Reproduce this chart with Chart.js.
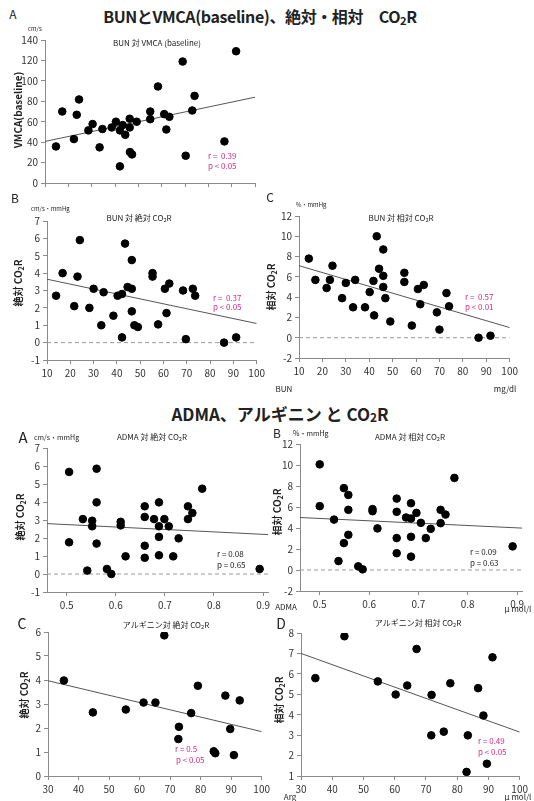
<!DOCTYPE html>
<html>
<head>
<meta charset="utf-8">
<script src="https://cdn.jsdelivr.net/npm/chart.js@4.4.0/dist/chart.umd.min.js"></script>
<style>
  body { margin:0; background:#fff; width:534px; height:801px; position:relative; overflow:hidden;
         font-family:"Noto Sans CJK JP", sans-serif; color:#222; }
  canvas { position:absolute; }
  .t { position:absolute; white-space:nowrap; line-height:1; }
</style>
</head>
<body>
<script>
/* data */

// BUN vs VMCA(baseline)
const bunA  = [14.7,17.4,22.4,23.6,24.6,28.6,30.4,33.4,34.6,38.6,40.4,42.1,42.1,43.3,44.4,46.3,46.3,46.4,47.3,49.3,55.1,55.1,58.4,61.1,62,63.3,69,70.3,73.1,74.1,86.9,91.9];
const vmca  = [35.8,70,43,66.8,81.8,51.5,57.7,34.9,52.8,54.4,60,51.5,16.3,56.7,47.2,62.9,54.4,30.3,28,60,70,62.5,94.5,67.4,52.4,64.8,118.9,26.7,71,85.3,40.7,129];
const fitA  = [40.7, 84];

// BUN vs absolute CO2R
const bunB  = [13.9,16.7,21.7,23.1,24.1,28.2,30,33.3,34.3,38.5,40.3,42.2,42.2,43.5,44.6,46.4,46.4,46.4,47.5,49,55.3,55.3,57.7,60.6,61.3,62.5,68.4,69.6,72.6,73.6,86,91.2];
const absB  = [2.7,4.0,2.1,3.8,5.9,2.0,3.1,1.0,2.9,1.55,2.7,2.8,0.3,5.7,3.2,4.75,3.1,1.8,1.0,0.9,4.0,3.8,1.05,3.1,1.7,3.4,3.0,0.2,3.1,2.7,0,0.3];
const fitB  = [3.65, 1.1];

// BUN vs relative CO2R
const bunC  = [14.2,17,21.8,23.2,24.3,28.4,30,33.1,34,38.2,40.2,41.8,42.1,43.2,44.2,46,46,46,46.9,49,55,55,58.2,60.8,61.8,63.3,68.9,70,73,74.1,86.7,91.8];
const relC  = [7.8,5.7,4.9,5.7,7.1,3.9,5.4,3.0,5.7,3.0,4.5,5.6,2.2,10.0,6.8,8.7,6.1,5.0,3.9,1.6,6.4,5.5,1.2,4.8,3.3,5.2,2.5,0.8,4.4,3.1,0,0.2];
const fitC  = [7.1, 1.0];

// ADMA vs absolute CO2R
const admaA = [0.505,0.505,0.533,0.542,0.552,0.552,0.561,0.561,0.561,0.582,0.591,0.61,0.61,0.62,0.659,0.659,0.659,0.659,0.678,0.688,0.688,0.688,0.688,0.699,0.708,0.717,0.728,0.747,0.747,0.756,0.776,0.893];
const absA  = [5.67,1.76,3.05,0.19,2.96,2.65,5.85,3.98,1.69,0.28,0,2.9,2.7,0.98,3.76,3.17,1.57,0.9,3.05,3.98,2.65,2.06,1.04,3.05,2.65,0.98,1.98,3.76,3.05,3.39,4.74,0.28];
const fitAdA = [2.8, 2.19];

// ADMA vs relative CO2R
const admaB = [0.5,0.5,0.529,0.538,0.549,0.549,0.558,0.558,0.558,0.578,0.587,0.607,0.607,0.617,0.656,0.656,0.656,0.656,0.675,0.685,0.685,0.685,0.685,0.696,0.705,0.715,0.725,0.745,0.745,0.755,0.773,0.891];
const relB  = [10.06,6.08,4.8,0.85,7.8,2.56,7.15,5.73,3.35,0.35,0.06,5.8,5.6,3.96,6.8,5.54,3.04,1.6,5.0,6.36,4.9,3.16,1.27,5.44,4.49,3.04,3.92,5.73,4.46,5.28,8.77,2.25];
const fitAdB = [5.0, 3.99];

// Arginine vs absolute CO2R
const argC  = [35.2,44.7,55.5,61.3,65.2,68.1,79.1,76.9,72.9,72.7,88.1,92.8,89.7,84.3,84.8,90.9];
const absC  = [3.98,2.65,2.77,3.06,3.06,5.86,3.76,2.62,2.05,1.54,3.35,3.15,1.96,1.03,0.95,0.87];
const fitArC = [3.97, 1.85];

// Arginine vs relative CO2R
const argD  = [34.6,43.9,54.6,60.3,64,67,71.8,71.7,75.7,77.8,83.4,83,86.7,88.4,89.5,91.3];
const relD  = [5.79,7.84,5.63,4.99,5.43,7.22,4.97,2.99,3.17,5.54,2.99,1.2,5.3,3.96,1.6,6.81];
const fitArD = [7.0, 3.15];

// tick labels
const bunTicks  = [10,20,30,40,50,60,70,80,90,100];
const admaTicks = [0.5,0.6,0.7,0.8,0.9];
const argTicks  = [30,40,50,60,70,80,90,100];
const vmcaTicks = [0,20,40,60,80,100,120,140];
const absTicks  = [-1,0,1,2,3,4,5,6,7];
const relTicks  = [-2,0,2,4,6,8,10,12];
const absArgTicks = [0,1,2,3,4,5,6];
const relArgTicks = [1,2,3,4,5,6,7,8];

const AXIS = '#8a8a8a';
const TICKFONT = { family: '"Noto Sans CJK JP", sans-serif', size: 10 };

function panel(p) {
  const padL = 34, padT = 8, padR = 8, padB = 22;
  const w = Math.round(p.box[2] - p.box[0]) + padL + padR;
  const h = Math.round(p.box[3] - p.box[1]) + padT + padB;
  const c = document.createElement('canvas');
  c.width = w; c.height = h;
  c.style.left = Math.round(p.box[0] - padL) + 'px';
  c.style.top = Math.round(p.box[1] - padT) + 'px';
  c.style.width = w + 'px'; c.style.height = h + 'px';
  document.body.appendChild(c);

  const datasets = [
    { data: p.xs.map((x, i) => ({ x, y: p.ys[i] })), backgroundColor: '#000', borderColor: '#000',
      pointRadius: 3.8, pointHoverRadius: 3.8, order: 0 },
    { data: [{ x: p.xr[0], y: p.fit[0] }, { x: p.xr[1], y: p.fit[1] }], showLine: true,
      pointRadius: 0, borderColor: '#555', borderWidth: 1, order: 1 }
  ];
  if (p.zero) datasets.push({ data: [{ x: p.xr[0], y: 0 }, { x: p.xr[1], y: 0 }], showLine: true,
      pointRadius: 0, borderColor: '#999', borderWidth: 1, borderDash: [4, 3], order: 2 });

  const axis = (min, max, ticks, fit, noLabels) => ({
    type: 'linear', min, max,
    afterBuildTicks: s => { s.ticks = ticks.map(v => ({ value: v })); },
    afterFit: fit,
    ticks: { font: TICKFONT, color: '#333', padding: 3, maxRotation: 0, autoSkip: false,
             callback: noLabels ? () => '' : (v => String(v)) },
    grid: { drawOnChartArea: false, drawTicks: true, tickLength: 4, color: AXIS },
    border: { color: AXIS, width: 1 }
  });

  new Chart(c, {
    type: 'scatter',
    data: { datasets },
    options: {
      responsive: false, animation: false, devicePixelRatio: 1,
      layout: { padding: { top: padT, right: padR, left: 0, bottom: 0 } },
      plugins: { legend: { display: false }, tooltip: { enabled: false } },
      scales: {
        x: axis(p.xr[0], p.xr[1], p.xt, s => { s.height = padB; }, p.noX),
        y: axis(p.yr[0], p.yr[1], p.yt, s => { s.width = padL; })
      }
    }
  });
}

function lab(html, x, y, size, o = {}) {
  const d = document.createElement('div');
  d.className = 't';
  d.innerHTML = html;
  d.style.left = x + 'px'; d.style.top = y + 'px';
  d.style.fontSize = size + 'px';
  d.style.color = o.color || '#222';
  d.style.fontWeight = o.bold ? '700' : '400';
  if (o.ls) d.style.letterSpacing = o.ls + 'px';
  let tr = o.left ? 'translate(0,-50%)' : 'translate(-50%,-50%)';
  if (o.rot) tr += ' rotate(-90deg)';
  d.style.transform = tr;
  document.body.appendChild(d);
}

const CO2R = 'CO<sub style="font-size:0.7em;vertical-align:-0.15em">2</sub>R';
const MAG = '#cc2c80';

panel({ box: [45, 39, 255, 183], xs: bunA, ys: vmca, fit: fitA, xr: [10, 100], yr: [0, 140], xt: bunTicks, yt: vmcaTicks, noX: true });
panel({ box: [47, 220, 260, 360], xs: bunB, ys: absB, fit: fitB, xr: [10, 100], yr: [-1, 7], xt: bunTicks, yt: absTicks, zero: true });
panel({ box: [299, 215, 513, 358], xs: bunC, ys: relC, fit: fitC, xr: [10, 100], yr: [-2, 12], xt: bunTicks, yt: relTicks, zero: true });
panel({ box: [47, 447, 268, 592], xs: admaA, ys: absA, fit: fitAdA, xr: [0.46, 0.91], yr: [-1, 7], xt: admaTicks, yt: absTicks, zero: true });
panel({ box: [300, 443, 522, 591], xs: admaB, ys: relB, fit: fitAdB, xr: [0.46, 0.91], yr: [-2, 12], xt: admaTicks, yt: relTicks, zero: true });
panel({ box: [48, 631, 265, 776], xs: argC, ys: absC, fit: fitArC, xr: [30, 100], yr: [0, 6], xt: argTicks, yt: absArgTicks });
panel({ box: [301, 632, 523, 776], xs: argD, ys: relD, fit: fitArD, xr: [30, 100], yr: [1, 8], xt: argTicks, yt: relArgTicks });

// headings
lab('BUNとVMCA(baseline)、絶対・相対　' + CO2R, 260, 17, 16, { bold: true, ls: -0.4 });
lab('ADMA、アルギニン と ' + CO2R, 280, 414, 17, { bold: true });

// panel letters
lab('A', 13, 14, 12);
lab('B', 15, 198, 12);
lab('C', 270, 197, 12);
lab('A', 23, 436, 15);
lab('B', 277, 433, 12);
lab('C', 22, 623, 14);
lab('D', 281, 623, 14);

// units
lab('cm/s', 28, 29, 6, { left: true });
lab('cm/s・mmHg', 31, 209, 6, { left: true });
lab('%・mmHg', 296, 205, 6, { left: true });
lab('cm/s・mmHg', 34, 437, 7, { left: true });
lab('%・mmHg', 293, 433, 7, { left: true });

// panel titles
lab('BUN 対 VMCA (baseline)', 157, 43, 8);
lab('BUN 対 絶対 ' + CO2R, 139, 219, 8);
lab('BUN 対 相対 ' + CO2R, 401, 219, 8);
lab('ADMA 対 絶対 ' + CO2R, 152, 438, 8);
lab('ADMA 対 相対 ' + CO2R, 410, 438, 8);
lab('アルギニン対 絶対 ' + CO2R, 166, 626, 8);
lab('アルギニン対 相対 ' + CO2R, 418, 624, 8);

// y titles
lab('VMCA(baseline)', 18, 110, 10, { bold: true, rot: true });
lab('絶対 ' + CO2R, 19, 283, 10, { bold: true, rot: true });
lab('相対 ' + CO2R, 272, 287, 10, { bold: true, rot: true });
lab('絶対 ' + CO2R, 21, 517, 10, { bold: true, rot: true });
lab('相対 ' + CO2R, 278, 512, 10, { bold: true, rot: true });
lab('絶対 ' + CO2R, 25, 695, 10, { bold: true, rot: true });
lab('相対 ' + CO2R, 280, 700, 10, { bold: true, rot: true });

// statistics
lab('r =&nbsp; 0.39', 208, 156, 8, { left: true, color: MAG });
lab('p &lt; 0.05', 208, 166, 8, { left: true, color: MAG });
lab('r =&nbsp; 0.37', 213, 298, 8, { left: true, color: MAG });
lab('p &lt; 0.05', 213, 307, 8, { left: true, color: MAG });
lab('r =&nbsp; 0.57', 465, 297, 8, { left: true, color: MAG });
lab('p &lt; 0.01', 465, 307, 8, { left: true, color: MAG });
lab('r = 0.08', 217, 554, 8, { left: true });
lab('p = 0.65', 217, 565, 8, { left: true });
lab('r = 0.09', 470, 552, 8, { left: true });
lab('p = 0.63', 470, 563, 8, { left: true });
lab('r = 0.5', 175, 749, 8, { left: true, color: MAG });
lab('p &lt; 0.05', 176, 760, 8, { left: true, color: MAG });
lab('r = 0.49', 478, 741, 8, { left: true, color: MAG });
lab('p &lt; 0.05', 478, 752, 8, { left: true, color: MAG });

// axis names
lab('BUN', 284, 389, 8);
lab('mg/dl', 505, 389, 8);
lab('ADMA', 286, 607, 8);
lab('μ mol/l', 518, 609, 8);
lab('Arg', 290, 797, 8);
lab('μ mol/l', 518, 797, 8);
</script>
</body>
</html>
